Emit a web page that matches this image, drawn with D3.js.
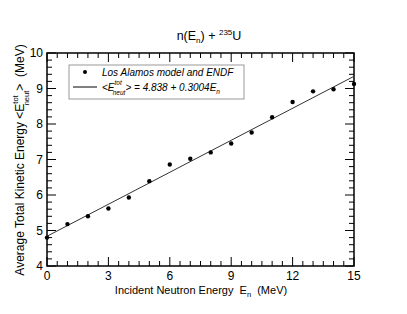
<!DOCTYPE html>
<html>
<head>
<meta charset="utf-8">
<script src="https://d3js.org/d3.v7.min.js"></script>
<style>
  body { margin: 0; background: white; }
  svg text { font-family: "Liberation Sans", Arial, sans-serif; fill: black; white-space: pre; }
</style>
</head>
<body>
<svg id="chart" width="407" height="314"></svg>
<script>
// points
const energies = [0, 1, 2, 3, 4, 5, 6, 7, 8, 9, 10, 11, 12, 13, 14, 15];
const tke = [4.80, 5.18, 5.40, 5.62, 5.93, 6.39, 6.86, 7.02, 7.20, 7.45, 7.76, 8.19, 8.62, 8.92, 8.98, 9.13];
const fitA = 4.838, fitB = 0.3004;
const xTicks = [0, 3, 6, 9, 12, 15];
const yTicks = [4, 5, 6, 7, 8, 9, 10];

const svg = d3.select("svg#chart");
const plotL = 47, plotR = 354, plotT = 53, plotB = 266;

const x = d3.scaleLinear().domain([0, 15]).range([plotL, plotR]);
const y = d3.scaleLinear().domain([4, 10]).range([plotB, plotT]);

// minor + major ticks, inward, on all four sides
const xMinor = d3.range(0, 15.01, 0.5);
const yMinor = d3.range(4, 10.01, 0.2);

xMinor.forEach(v => {
  let major = Math.abs(v / 3 - Math.round(v / 3)) < 1e-6;
  let len = major ? 9 : 5;
  svg.append("line").attr("x1", x(v)).attr("x2", x(v)).attr("y1", plotB).attr("y2", plotB - len)
    .style("stroke", "black").style("stroke-width", 1);
  svg.append("line").attr("x1", x(v)).attr("x2", x(v)).attr("y1", plotT).attr("y2", plotT + len)
    .style("stroke", "black").style("stroke-width", 1);
});
yMinor.forEach(v => {
  let major = Math.abs(v - Math.round(v)) < 1e-6;
  let len = major ? 9 : 5;
  svg.append("line").attr("x1", plotL).attr("x2", plotL + len).attr("y1", y(v)).attr("y2", y(v))
    .style("stroke", "black").style("stroke-width", 1);
  svg.append("line").attr("x1", plotR).attr("x2", plotR - len).attr("y1", y(v)).attr("y2", y(v))
    .style("stroke", "black").style("stroke-width", 1);
});

svg.append("rect").attr("x", plotL).attr("y", plotT)
  .attr("width", plotR - plotL).attr("height", plotB - plotT)
  .style("fill", "none").style("stroke", "black").style("stroke-width", 1.5);

xTicks.forEach(v => {
  svg.append("text").text(v).attr("x", x(v)).attr("y", plotB + 14)
    .style("font-size", "12px").style("text-anchor", "middle");
});
yTicks.forEach(v => {
  svg.append("text").text(v).attr("x", plotL - 4).attr("y", y(v) + 4)
    .style("font-size", "12px").style("text-anchor", "end");
});

// fit line
svg.append("line")
  .attr("x1", x(0)).attr("y1", y(fitA))
  .attr("x2", x(15)).attr("y2", y(fitA + fitB * 15))
  .style("stroke", "#333").style("stroke-width", 1);

// points
energies.forEach((e, i) => {
  svg.append("circle").attr("cx", x(e)).attr("cy", y(tke[i])).attr("r", 2.2)
    .style("fill", "black");
});

// legend
svg.append("rect").attr("x", 69).attr("y", 65).attr("width", 175).attr("height", 34)
  .style("fill", "white").style("stroke", "#999").style("stroke-width", 1);
svg.append("circle").attr("cx", 85).attr("cy", 72).attr("r", 2).style("fill", "black");
svg.append("line").attr("x1", 73).attr("x2", 97).attr("y1", 87).attr("y2", 87)
  .style("stroke", "black").style("stroke-width", 1);
svg.append("text").attr("x", 102).attr("y", 76)
  .style("font-size", "10px").style("font-style", "italic")
  .text("Los Alamos model and ENDF");
let leg2 = svg.append("text").attr("x", 102).attr("y", 91)
  .style("font-size", "10px").style("font-style", "italic");
leg2.append("tspan").text("<E");
leg2.append("tspan").attr("dy", -6).style("font-size", "6.5px").text("tot");
leg2.append("tspan").attr("dx", -9).attr("dy", 10).style("font-size", "6.5px").text("neut");
leg2.append("tspan").attr("dy", -4).text("> = 4.838 + 0.3004E");
leg2.append("tspan").attr("dy", 3).style("font-size", "6.5px").text("n");

// title
let title = svg.append("text").attr("x", 209).attr("y", 40)
  .style("font-size", "12.5px").style("text-anchor", "middle");
title.append("tspan").text("n(E");
title.append("tspan").attr("dy", 3).style("font-size", "8px").text("n");
title.append("tspan").attr("dy", -3).text(") + ");
title.append("tspan").attr("dy", -5).style("font-size", "8px").text("235");
title.append("tspan").attr("dy", 5).text("U");

// x label
let xl = svg.append("text").attr("x", 201).attr("y", 294)
  .style("font-size", "11px").style("text-anchor", "middle");
xl.append("tspan").text("Incident Neutron Energy  E");
xl.append("tspan").attr("dy", 3).style("font-size", "7.5px").text("n");
xl.append("tspan").attr("dy", -3).text("  (MeV)");

// y label
let yl = svg.append("text").attr("transform", "translate(24,160) rotate(-90)")
  .style("font-size", "12px").style("text-anchor", "middle");
yl.append("tspan").text("Average Total Kinetic Energy <E");
yl.append("tspan").attr("dy", -6).style("font-size", "7.5px").text("tot");
yl.append("tspan").attr("dx", -10).attr("dy", 11).style("font-size", "7.5px").text("neut");
yl.append("tspan").attr("dy", -5).text(">  (MeV)");
</script>
</body>
</html>
